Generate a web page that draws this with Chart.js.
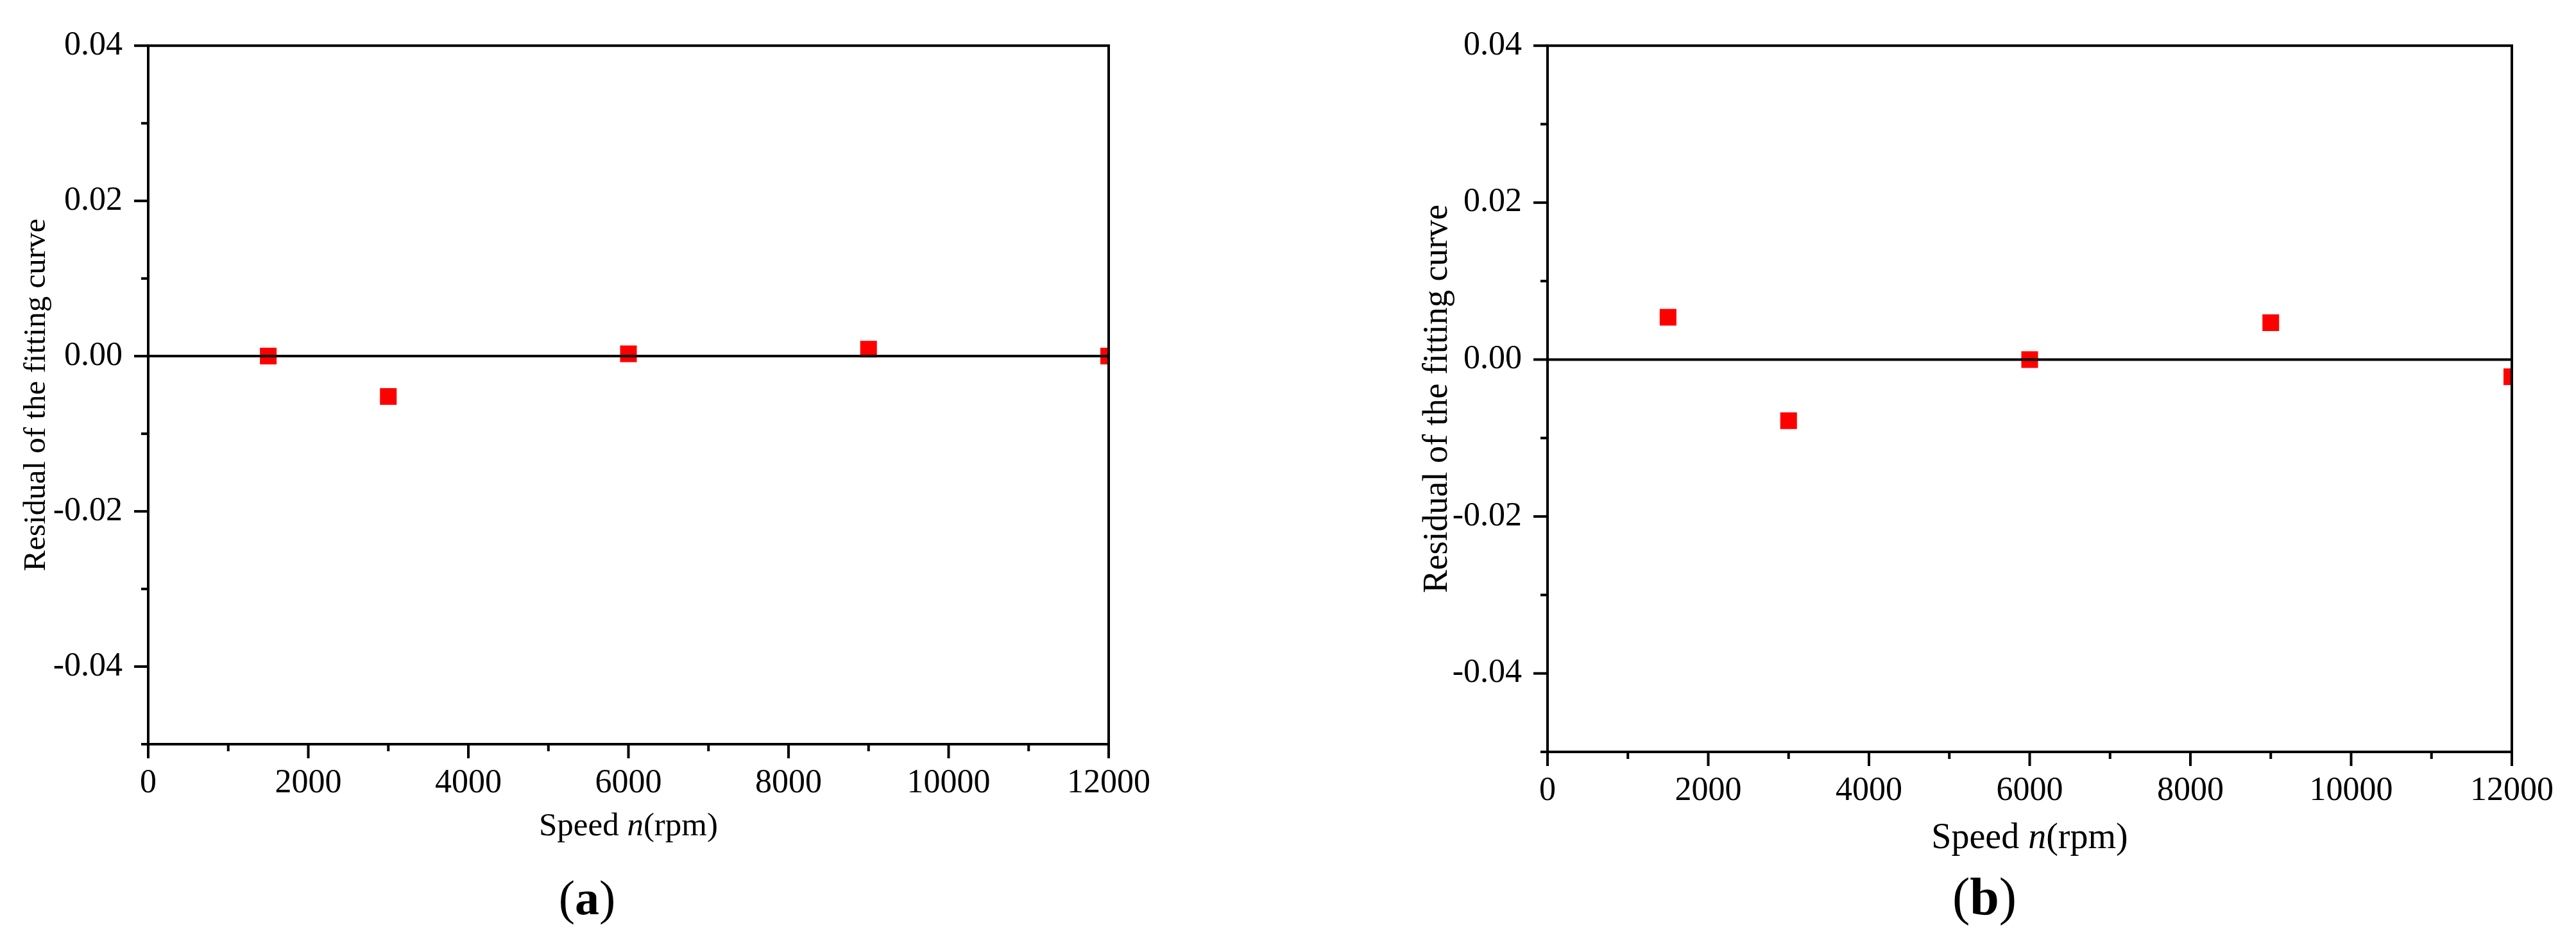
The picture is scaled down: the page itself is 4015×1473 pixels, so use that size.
<!DOCTYPE html>
<html>
<head>
<meta charset="utf-8">
<script src="https://cdn.jsdelivr.net/npm/chart.js@4.4.0/dist/chart.umd.min.js"></script>
<style>
  html, body { margin: 0; padding: 0; background: #fff; }
  body { width: 4015px; height: 1473px; position: relative; overflow: hidden; }
  .panel { position: absolute; top: 0; }
</style>
</head>
<body>
<div class="panel" style="left:0"><canvas id="chartA" width="2000" height="1473"></canvas></div>
<div class="panel" style="left:2000px"><canvas id="chartB" width="2015" height="1473"></canvas></div>
<script>
// data
const speeds = [1500, 3000, 6000, 9000, 12000];
const residualA = [0.0000, -0.0052, 0.0003, 0.0009, 0.0000];
const residualB = [0.0054, -0.0078, 0.0000, 0.0047, -0.0022];

// tick labels
const xLabelTicks = [0, 2000, 4000, 6000, 8000, 10000, 12000];
const yLabelTicks = [-0.04, -0.02, 0, 0.02, 0.04];

const SERIF = "'Liberation Serif', 'Times New Roman', serif";

const isXMajor = v => xLabelTicks.includes(Math.round(v));
const isYMajor = v => yLabelTicks.some(t => Math.abs(t - v) < 1e-9);

// frame, zero line, tick marks and titles
const framePlugin = {
  id: 'frame',
  afterDatasetsDraw(chart, args, opts) {
    const {ctx, chartArea: a, scales: {x, y}} = chart;
    ctx.save();
    ctx.strokeStyle = '#000';
    ctx.lineWidth = 4;
    ctx.lineCap = 'butt';
    const line = (x1, y1, x2, y2) => {
      ctx.beginPath(); ctx.moveTo(x1, y1); ctx.lineTo(x2, y2); ctx.stroke();
    };
    const y0 = y.getPixelForValue(0);
    line(a.left, y0, a.right, y0);
    ctx.strokeRect(a.left, a.top, a.right - a.left, a.bottom - a.top);
    x.ticks.forEach((t, i) => {
      const px = x.getPixelForTick(i);
      line(px, a.bottom, px, a.bottom + (isXMajor(t.value) ? 22 : 11));
    });
    y.ticks.forEach((t, i) => {
      const py = y.getPixelForTick(i);
      line(a.left, py, a.left - (isYMajor(t.value) ? 22 : 11), py);
    });
    ctx.restore();
  },
  afterDraw(chart, args, opts) {
    const {ctx, chartArea: a} = chart;
    ctx.save();
    ctx.fillStyle = '#000';
    ctx.textBaseline = 'alphabetic';

    // y title
    ctx.save();
    ctx.translate(opts.yTitleX, (a.top + a.bottom) / 2);
    ctx.rotate(-Math.PI / 2);
    ctx.textAlign = 'center';
    ctx.font = opts.yTitleSize + 'px ' + SERIF;
    ctx.fillText('Residual of the fitting curve', 0, 0);
    ctx.restore();

    // x title with italic n
    const parts = [
      {t: 'Speed ', f: opts.xTitleSize + 'px ' + SERIF},
      {t: 'n', f: 'italic ' + opts.xTitleSize + 'px ' + SERIF},
      {t: '(rpm)', f: opts.xTitleSize + 'px ' + SERIF}
    ];
    ctx.textAlign = 'left';
    let total = 0;
    parts.forEach(p => { ctx.font = p.f; p.w = ctx.measureText(p.t).width; total += p.w; });
    let cx = (a.left + a.right) / 2 - total / 2;
    parts.forEach(p => { ctx.font = p.f; ctx.fillText(p.t, cx, opts.xTitleY); cx += p.w; });

    // panel label
    const lab = [
      {t: '(', f: opts.labelSize + 'px ' + SERIF},
      {t: opts.label, f: 'bold ' + opts.labelSize + 'px ' + SERIF},
      {t: ')', f: opts.labelSize + 'px ' + SERIF}
    ];
    total = 0;
    lab.forEach(p => { ctx.font = p.f; p.w = ctx.measureText(p.t).width; total += p.w; });
    cx = opts.labelX - total / 2;
    lab.forEach(p => { ctx.font = p.f; ctx.fillText(p.t, cx, opts.labelY); cx += p.w; });
    ctx.restore();
  }
};

function makeChart(id, values, geom, titles) {
  const ctx = document.getElementById(id).getContext('2d');
  return new Chart(ctx, {
    type: 'scatter',
    data: {
      datasets: [{
        data: speeds.map((s, i) => ({x: s, y: values[i]})),
        backgroundColor: '#ff0000',
        borderWidth: 0,
        pointStyle: 'rect',
        pointRadius: 18.4,
        pointHoverRadius: 18.4,
        clip: 0
      }]
    },
    options: {
      responsive: false,
      devicePixelRatio: 1,
      animation: false,
      layout: {
        padding: {top: geom.top, right: geom.width - geom.right, bottom: 0, left: 0}
      },
      plugins: {
        legend: {display: false},
        tooltip: {enabled: false},
        frame: titles
      },
      scales: {
        x: {
          type: 'linear',
          min: 0,
          max: 12000,
          afterFit: s => { s.height = 1473 - geom.bottom; },
          grid: {display: false, drawTicks: false},
          border: {display: false},
          ticks: {
            stepSize: 1000,
            autoSkip: false,
            maxRotation: 0,
            padding: 30,
            color: '#000',
            font: {family: SERIF, size: 52},
            callback: v => isXMajor(v) ? String(Math.round(v)) : ''
          }
        },
        y: {
          type: 'linear',
          min: -0.05,
          max: 0.04,
          afterFit: s => { s.width = geom.left; },
          grid: {display: false, drawTicks: false},
          border: {display: false},
          ticks: {
            stepSize: 0.01,
            autoSkip: false,
            padding: 40,
            color: '#000',
            font: {family: SERIF, size: 52},
            callback: v => isYMajor(v) ? (Math.abs(v) < 1e-9 ? 0 : v).toFixed(2) : ''
          }
        }
      }
    },
    plugins: [framePlugin]
  });
}

// panel (a)
makeChart('chartA', residualA,
  {width: 2000, left: 231, right: 1728, top: 53, bottom: 1160},
  {yTitleX: 70, yTitleSize: 49, xTitleY: 1302, xTitleSize: 51,
   label: 'a', labelSize: 76, labelX: 915, labelY: 1425});

// panel (b)
makeChart('chartB', residualB,
  {width: 2015, left: 412, right: 1915, top: 62, bottom: 1172},
  {yTitleX: 255, yTitleSize: 54, xTitleY: 1322, xTitleSize: 56,
   label: 'b', labelSize: 82, labelX: 1093, labelY: 1425});
</script>
</body>
</html>
